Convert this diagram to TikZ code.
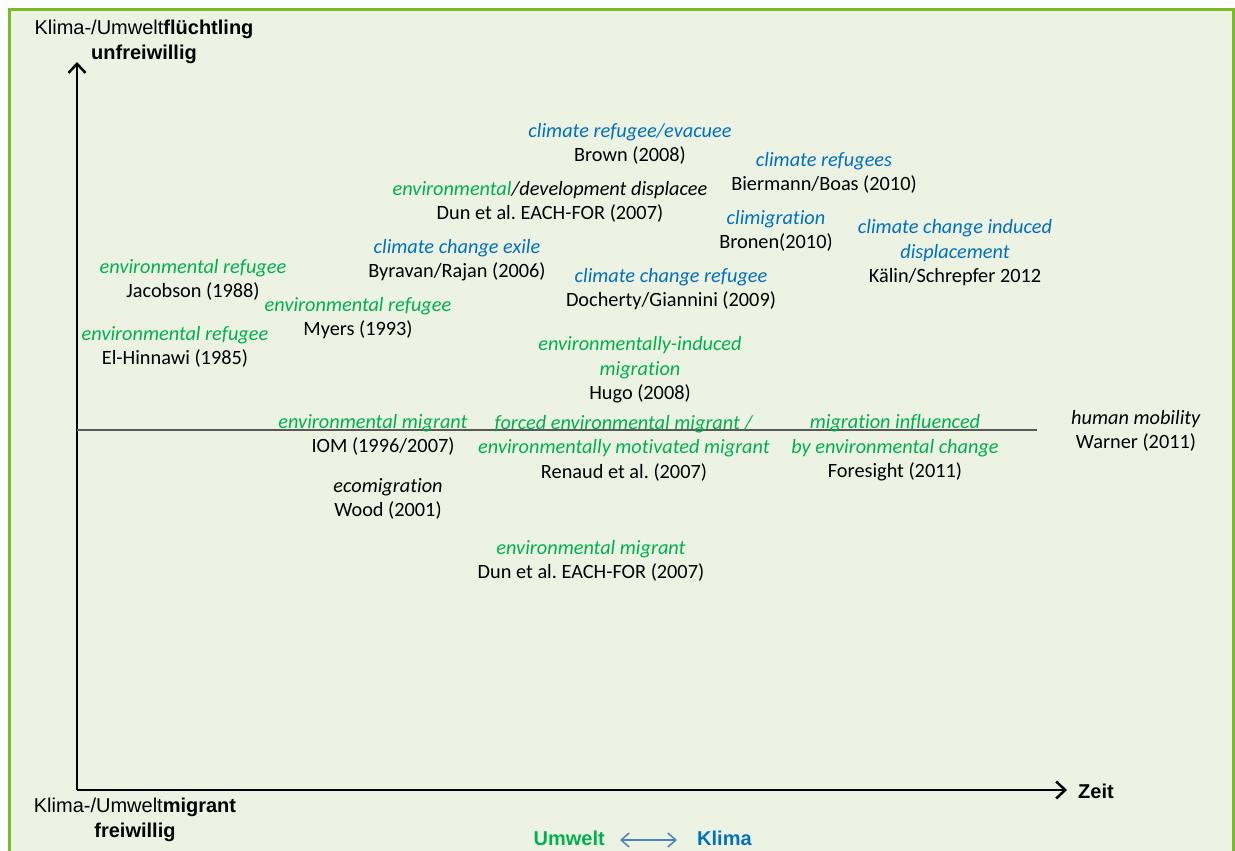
\documentclass[tikz,border=0pt]{standalone}
\usepackage{fontspec}
\setmainfont[Ligatures=NoCommon]{Carlito}
\newfontfamily\arialfont{Liberation Sans}
\usetikzlibrary{arrows.meta}
\definecolor{envgreen}{HTML}{00B050}
\definecolor{climblue}{HTML}{0070C0}
\definecolor{framegreen}{HTML}{7AB929}
\definecolor{panelbg}{HTML}{EDF3E2}
\definecolor{arrowblue}{HTML}{4F81BD}
\newcommand{\envterm}[1]{\textcolor{envgreen}{\textit{#1}}}
\newcommand{\climterm}[1]{\textcolor{climblue}{\textit{#1}}}
\frenchspacing
\begin{document}
\begin{tikzpicture}
  [x=1pt,y=-1pt,every node/.style={align=center,inner sep=0pt,font=\fontsize{20.3}{24.5}\selectfont},
   axislabel/.style={font=\arialfont\fontsize{20}{24.5}\selectfont}]
  \useasboundingbox (0,0) rectangle (1235,851);
  \path[fill=panelbg,draw=framegreen,line width=3pt] (9,10) rectangle (1233,880);
  % axes
  \coordinate (o) at (77,790);
  \coordinate (ytop) at (77,62);
  \coordinate (xend) at (1067,790);
  \coordinate (ml) at (77,430);
  \coordinate (mr) at (1037,430);
  \draw[line width=2.5pt,-{Straight Barb[length=9pt,width=17pt]}] (o) -- (ytop);
  \draw[line width=2.5pt,-{Straight Barb[length=9pt,width=17pt]}] (o) -- (xend);
  \draw[line width=1.2pt,black!65] (ml) -- (mr);
  \node[axislabel] (fl) at (144,42) {Klima-/Umwelt\textbf{flüchtling}\\\textbf{unfreiwillig}};
  \node[axislabel] (mi) at (135,820) {Klima-/Umwelt\textbf{migrant}\\\textbf{freiwillig}};
  \node[axislabel,anchor=west] (zeit) at (1078,791) {\textbf{Zeit}};
  \node[axislabel,anchor=east,text=envgreen] (umwelt) at (605,838) {\textbf{Umwelt}};
  \node[axislabel,anchor=west,text=climblue] (klima) at (697,838) {\textbf{Klima}};
  \draw[arrowblue,line width=1.5pt,{Straight Barb[length=8pt,width=14pt]}-{Straight Barb[length=8pt,width=14pt]},
    shorten <=15pt,shorten >=20pt] ([yshift=-2pt]umwelt.east) -- ([yshift=-2pt]klima.west);
  % terms
  \begin{scope}[yshift=-2pt]
  \node (e1) at (630,142) {\climterm{climate refugee/evacuee}\\Brown (2008)};
  \node (e2) at (824,171) {\climterm{climate refugees}\\Biermann/Boas (2010)};
  \node (e3) at (550,200) {\envterm{environmental}\textit{/development displacee}\\Dun et al. EACH-FOR (2007)};
  \node (e4) at (776,229) {\climterm{climigration}\\Bronen(2010)};
  \node (e5) at (955,251) {\climterm{climate change induced}\\\climterm{displacement}\\Kälin/Schrepfer 2012};
  \node (e6) at (457,258) {\climterm{climate change exile}\\Byravan/Rajan (2006)};
  \node (e7) at (193,278) {\envterm{environmental refugee}\\Jacobson (1988)};
  \node (e8) at (671,287) {\climterm{climate change refugee}\\Docherty/Giannini (2009)};
  \node (e9) at (358,316) {\envterm{environmental refugee}\\Myers (1993)};
  \node (e10) at (175,345) {\envterm{environmental refugee}\\El-Hinnawi (1985)};
  \node (e11) at (640,368) {\envterm{environmentally-induced}\\\envterm{migration}\\Hugo (2008)};
  \node (e12) at (373,433) {\envterm{environmental migrant}\\\hspace*{20pt}IOM (1996/2007)};
  \node (e13) at (624,446) {\envterm{forced environmental migrant /}\\\envterm{environmentally motivated migrant}\\Renaud et al. (2007)};
  \node (e14) at (895,446) {\envterm{migration influenced}\\\envterm{by environmental change}\\Foresight (2011)};
  \node (e15) at (1136,429) {\textit{human mobility}\\Warner (2011)};
  \node (e16) at (388,497) {\textit{ecomigration}\\Wood (2001)};
  \node (e17) at (591,559) {\envterm{environmental migrant}\\Dun et al. EACH-FOR (2007)};
  \end{scope}
\end{tikzpicture}
\end{document}
